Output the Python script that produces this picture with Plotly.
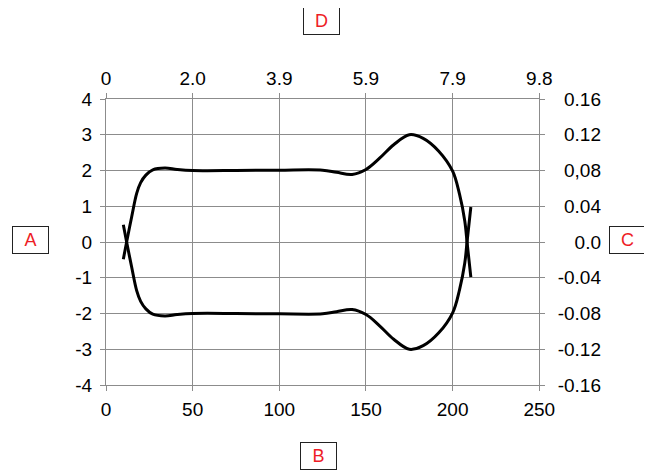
import plotly.graph_objects as go

# ---- data ----
x_upper = [10, 11.9, 14.8, 17.7, 20, 23, 27, 34, 41, 50, 75, 100, 125, 133, 142, 150, 158, 166, 175, 183, 192, 200, 204, 207, 208.3, 210.5]
y_upper = [-0.48, 0, 0.7, 1.36, 1.66, 1.87, 2.02, 2.07, 2.03, 2.0, 2.0, 2.01, 2.01, 1.95, 1.89, 2.03, 2.35, 2.72, 3.0, 2.9, 2.54, 1.98, 1.33, 0.59, 0, -0.98]
x_lower = [10, 11.9, 14.8, 17.7, 20, 23, 27, 34, 41, 50, 75, 100, 125, 133, 142, 150, 158, 166, 175, 183, 192, 200, 204, 207, 208.3, 210.5]
y_lower = [0.48, 0, -0.7, -1.36, -1.66, -1.87, -2.02, -2.07, -2.03, -2.0, -2.0, -2.01, -2.01, -1.95, -1.89, -2.03, -2.35, -2.72, -3.0, -2.9, -2.54, -1.98, -1.33, -0.59, 0, 0.98]

bottom_ticks = [0, 50, 100, 150, 200, 250]
left_ticks = [-4, -3, -2, -1, 0, 1, 2, 3, 4]
left_ticktext = ["-4", "-3", "-2", "-1", "0", "1", "2", "3", "4"]
top_tickvals = [0, 1.96, 3.92, 5.88, 7.84, 9.8]
top_ticktext = ["0", "2.0", "3.9", "5.9", "7.9", "9.8"]
right_tickvals = [-0.16, -0.12, -0.08, -0.04, 0.0, 0.04, 0.08, 0.12, 0.16]
right_ticktext = ["-0.16", "-0.12", "-0.08", "-0.04", "0.0", "0.04", "0,08", "0.12", "0.16"]
box_labels = ["A", "B", "C", "D"]

FONT = "Liberation Sans, Arial, Helvetica, sans-serif"
TICKSIZE = 19
GRID = "#8c8c8c"
OFF = 8                     # page body margin
W, H = 652 - OFF, 472 - OFF
ML, MR, MT, MB = 106 - OFF, 12, 99 - OFF, 87
PW = W - ML - MR
PH = H - MT - MB
x_dom_end = 433.3 / PW

fig = go.Figure()
for xs, ys in [(x_upper, y_upper), (x_lower, y_lower)]:
    fig.add_trace(go.Scatter(x=xs, y=ys, mode="lines",
                             line=dict(color="black", width=3, shape="spline", smoothing=1.0),
                             showlegend=False, hoverinfo="skip"))

fig.add_trace(go.Scatter(x=[None], y=[None], xaxis="x2", yaxis="y2",
                         showlegend=False, hoverinfo="skip"))

fig.update_layout(
    template="none",
    width=W, height=H,
    margin=dict(l=ML, r=MR, t=MT, b=MB, autoexpand=False),
    paper_bgcolor="white", plot_bgcolor="white",
    font=dict(family=FONT, size=TICKSIZE, color="black"),
    xaxis=dict(domain=[0, x_dom_end], range=[0, 250], tickvals=bottom_ticks,
               showgrid=True, gridcolor=GRID, gridwidth=1, zeroline=False,
               showline=True, linecolor=GRID, linewidth=1, mirror="ticks",
               ticks="outside", ticklen=5, tickcolor=GRID, tickwidth=1,
               ticklabelstandoff=2, automargin=False),
    yaxis=dict(range=[-4, 4], tickvals=left_ticks, ticktext=left_ticktext,
               showgrid=True, gridcolor=GRID, gridwidth=1, zeroline=False,
               showline=True, linecolor=GRID, linewidth=1, mirror="ticks",
               ticks="outside", ticklen=5, tickcolor=GRID, tickwidth=1,
               ticklabelstandoff=4, automargin=False),
    xaxis2=dict(overlaying="x", side="top", anchor="y", range=[0, 9.8],
                tickvals=top_tickvals, ticktext=top_ticktext,
                showgrid=False, zeroline=False, showline=False, ticks="",
                ticklabelstandoff=9, automargin=False),
    yaxis2=dict(overlaying="y", side="left", anchor="free",
                position=(601 - 106) / PW, range=[-0.16, 0.16],
                tickvals=right_tickvals, ticktext=right_ticktext,
                showgrid=False, zeroline=False, showline=False, ticks="",
                automargin=False),
)

box_pos = [(30.8, 239.7), (318.6, 455.7), (627.2, 239.5), (321, 20.5)]
for lab, (px, py) in zip(box_labels, box_pos):
    fx, fy = px - OFF, py - OFF
    fig.add_annotation(text=lab, xref="paper", yref="paper",
                       x=(fx - ML) / PW, y=(H - MB - fy) / PH,
                       xanchor="center", yanchor="middle", showarrow=False,
                       font=dict(family=FONT, size=18, color="#ee1c25"),
                       bordercolor="#222222", borderwidth=1, borderpad=1,
                       bgcolor="white", width=33, height=24)

fig.write_html("out.html")
